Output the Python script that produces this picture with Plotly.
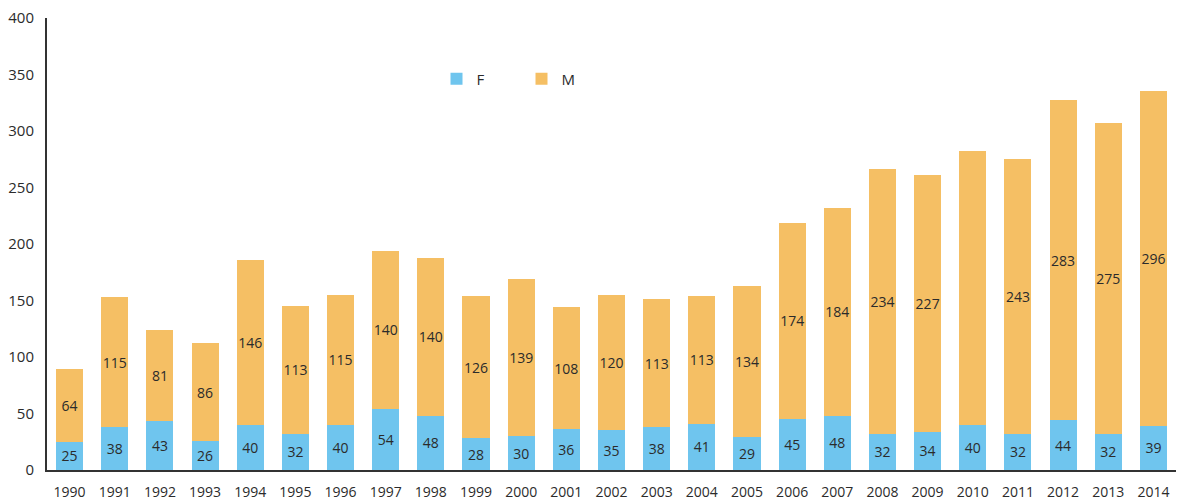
import plotly.graph_objects as go

years = [str(y) for y in range(1990, 2015)]
female = [25, 38, 43, 26, 40, 32, 40, 54, 48, 28, 30, 36, 35, 38, 41, 29, 45, 48, 32, 34, 40, 32, 44, 32, 39]
male = [64, 115, 81, 86, 146, 113, 115, 140, 140, 126, 139, 108, 120, 113, 113, 134, 174, 184, 234, 227, 242, 243, 283, 275, 296]
# the reference shows no label on the 2010 male segment
male_labels = [str(v) if y != "2010" else "" for v, y in zip(male, years)]
female_labels = [str(v) for v in female]

BLUE = "#6FC5EE"
ORANGE = "#F5BF64"
TEXT = "#2b2b2b"
FONT = "Open Sans"

fig = go.Figure()
fig.add_trace(go.Bar(
    name="F", x=years, y=female, marker_color=BLUE, marker_line_width=0,
    text=female_labels, textposition="inside", insidetextanchor="middle",
    textangle=0, constraintext="none",
    textfont=dict(family=FONT, size=14, color=TEXT),
))
fig.add_trace(go.Bar(
    name="M", x=years, y=male, marker_color=ORANGE, marker_line_width=0,
    text=male_labels, textposition="inside", insidetextanchor="middle",
    textangle=0, constraintext="none",
    textfont=dict(family=FONT, size=14, color=TEXT),
))

fig.update_layout(
    barmode="stack",
    bargap=0.4,
    width=1178, height=504,
    margin=dict(l=47, r=2, t=18, b=34, autoexpand=False),
    paper_bgcolor="white", plot_bgcolor="white",
    font=dict(family=FONT, size=14, color=TEXT),
    showlegend=True,
    legend=dict(
        orientation="h", x=0.345, y=0.865, xanchor="left", yanchor="middle",
        traceorder="normal",
        font=dict(family=FONT, size=15, color=TEXT),
        bgcolor="rgba(0,0,0,0)", entrywidth=40, entrywidthmode="pixels",
    ),
    uniformtext=dict(mode=False),
)
fig.update_xaxes(
    showline=True, linecolor="#333333", linewidth=2,
    showgrid=False, ticks="", tickfont=dict(family=FONT, size=14, color=TEXT),
    range=[-0.5, 24.5], ticklabelstandoff=8, automargin=False,
)
fig.update_yaxes(
    showline=True, linecolor="#333333", linewidth=2,
    showgrid=False, zeroline=False, ticks="", range=[0, 400], dtick=50,
    tickfont=dict(family=FONT, size=15, color=TEXT), ticklabelstandoff=8,
    automargin=False,
)

fig.write_html(
    "out.html",
    config={"displayModeBar": False},
    post_script="document.body.style.margin='0';",
)
